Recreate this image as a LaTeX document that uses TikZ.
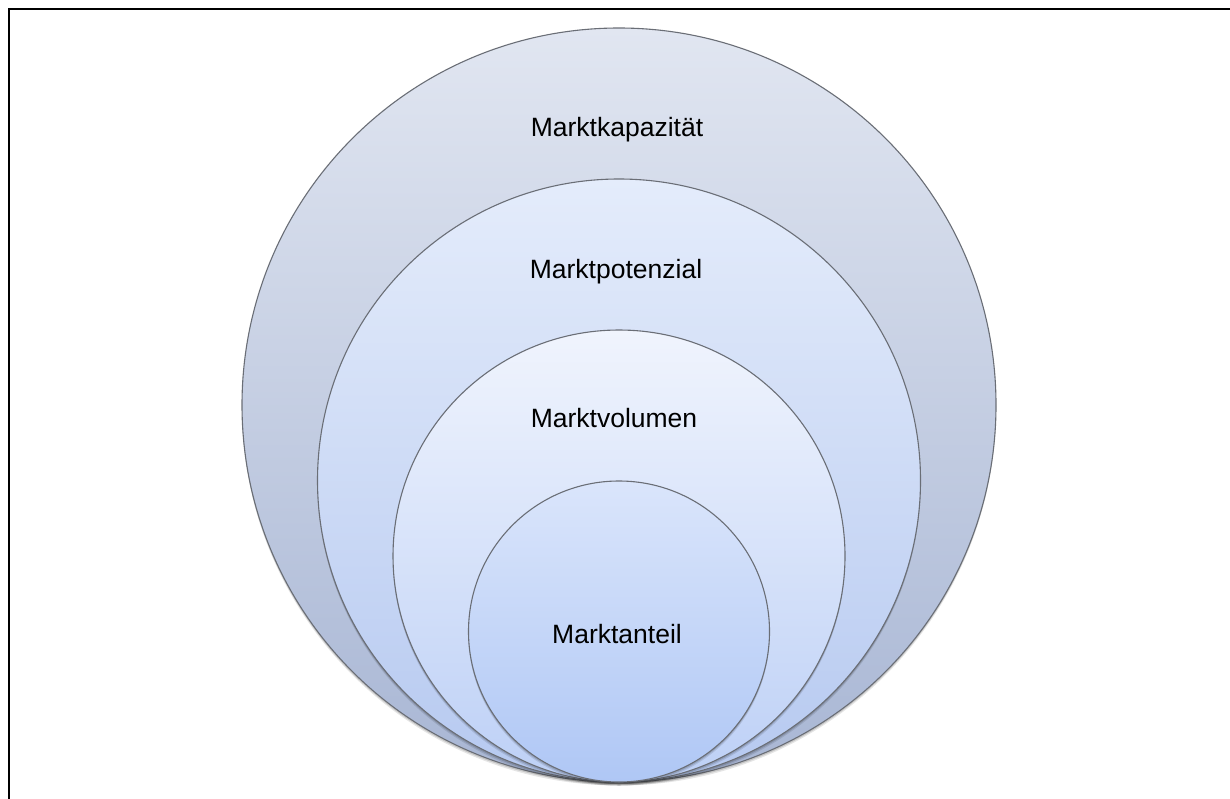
\documentclass[tikz,border=0pt]{standalone}
\usepackage{fontspec}
\setmainfont{Liberation Sans}
\begin{document}
\begin{tikzpicture}[x=1pt,y=-1pt,
  ring/.style={draw=ringline,line width=1.1pt},
  shadowring/.style={fill=black,fill opacity=#1,draw=none},
  lbl/.style={font=\fontsize{26.5}{30}\selectfont,text=black,inner sep=0pt}]
\definecolor{ringline}{HTML}{6A6E76}
\definecolor{capTop}{HTML}{E1E6F1}\definecolor{capBot}{HTML}{A8B6D4}
\definecolor{potTop}{HTML}{E4ECFB}\definecolor{potBot}{HTML}{B6C9F0}
\definecolor{volTop}{HTML}{F0F4FD}\definecolor{volBot}{HTML}{BDD0F6}
\definecolor{antTop}{HTML}{DAE5FB}\definecolor{antBot}{HTML}{AFC7F5}
\useasboundingbox (0,0) rectangle (1230,798);
\fill[white] (0,0) rectangle (1230,798);
% page frame, open towards the right and bottom edges
\draw[line width=2.7pt,line cap=rect] (1230,9) -- (9,9) -- (9,798);
% nested circles, all touching at the bottom point (619,782)
\foreach \r/\t/\b/\n in {377/capTop/capBot/cap, 301.5/potTop/potBot/pot, 226/volTop/volBot/vol, 150.5/antTop/antBot/ant}{
  \fill[shadowring=0.10] (619,782-\r+3.5) circle (\r);
  \fill[shadowring=0.14] (619,782-\r+2) circle (\r);
  \shade[top color=\t,bottom color=\b] (619,782-\r) circle (\r);
  \draw[ring] (619,782-\r) circle (\r);
  \coordinate (\n) at (619,782-\r);
}
\node[lbl] (tcap) at (617,130) {Marktkapazität};
\node[lbl] (tpot) at (616,272) {Marktpotenzial};
\node[lbl] (tvol) at (614,418) {Marktvolumen};
\node[lbl] (tant) at (617,634) {Marktanteil};
\end{tikzpicture}
\end{document}
